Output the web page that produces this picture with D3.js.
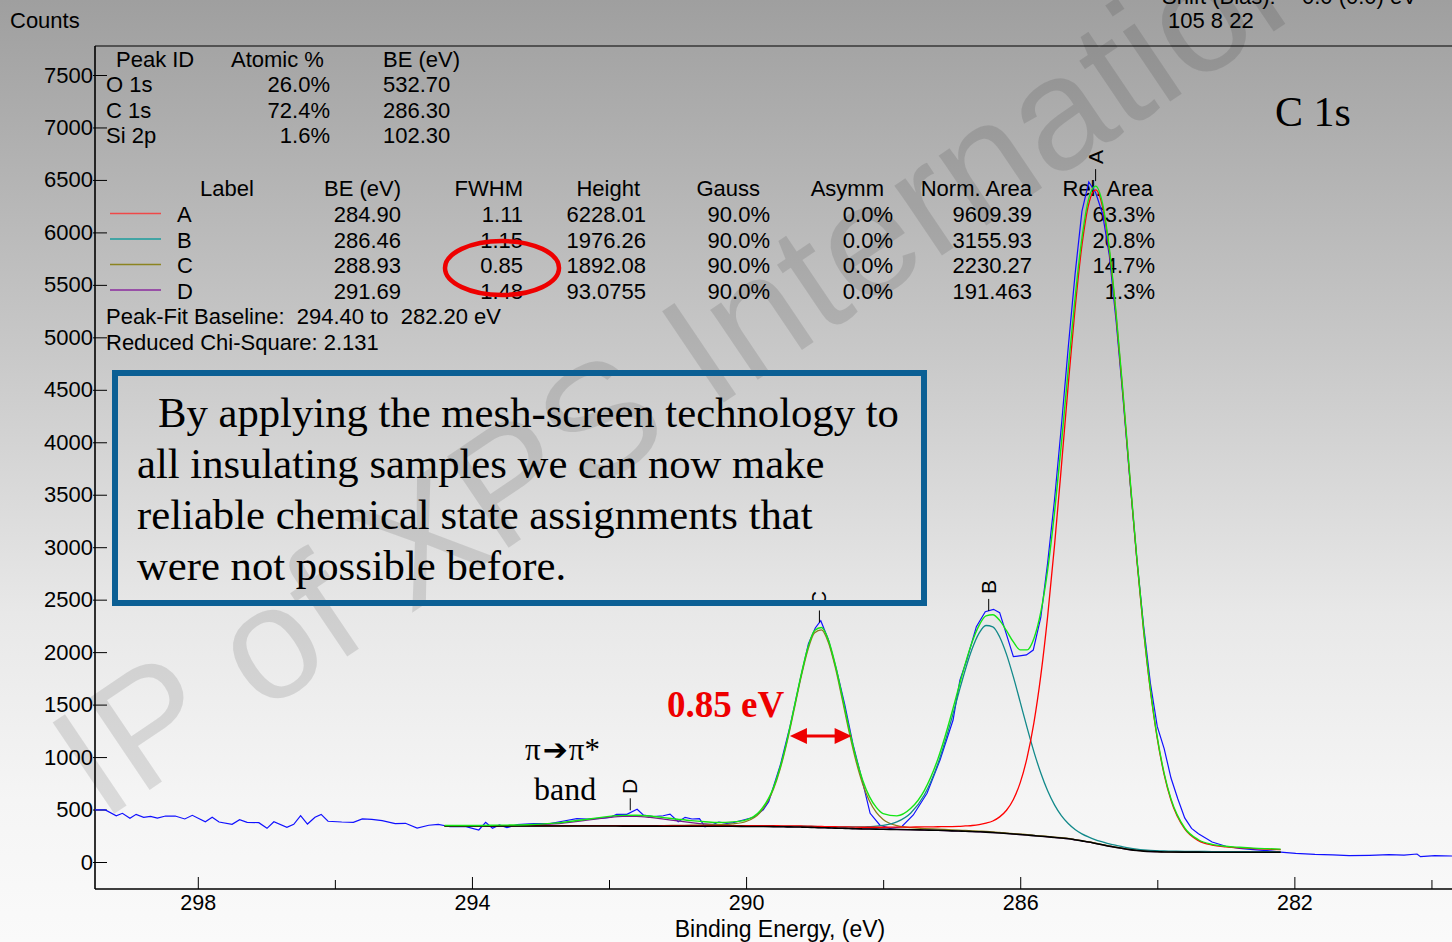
<!DOCTYPE html>
<html><head><meta charset="utf-8">
<script src="https://cdn.jsdelivr.net/npm/d3@7"></script>
<style>html,body{margin:0;padding:0;overflow:hidden;background:#fff}</style>
</head><body><svg id="chart" width="1452" height="942"></svg>
<script>
// ---------- DATA ----------
const yTicks = [0,500,1000,1500,2000,2500,3000,3500,4000,4500,5000,5500,6000,6500,7000,7500];
const xMajorTicks = [298,294,290,286,282];
const xMinorTicks = [296,292,288,284,280];

const peakIds = ["O 1s","C 1s","Si 2p"];
const atomicPct = ["26.0%","72.4%","1.6%"];
const peakBEs = ["532.70","286.30","102.30"];

const compLabels = ["A","B","C","D"];
const compBE = [284.90,286.46,288.93,291.69];
const compBEtxt = ["284.90","286.46","288.93","291.69"];
const compFWHM = ["1.11","1.15","0.85","1.48"];
const compHeight = ["6228.01","1976.26","1892.08","93.0755"];
const compGauss = ["90.0%","90.0%","90.0%","90.0%"];
const compAsymm = ["0.0%","0.0%","0.0%","0.0%"];
const compNormArea = ["9609.39","3155.93","2230.27","191.463"];
const compRelArea = ["63.3%","20.8%","14.7%","1.3%"];
const compColors = ["#ff0000","#12898a","#8a7d1a","#7a1a8a"];
const legendColors = ["#f04848","#1a9c9c","#8c8420","#8a2a9e"];

// raw spectrum (blue)
const rawBE = [299.50,299.35,299.19,299.10,298.99,298.90,298.79,298.69,298.59,298.47,298.33,298.19,298.08,297.89,297.79,297.69,297.50,297.39,297.28,297.11,296.99,296.89,296.70,296.60,296.50,296.40,296.29,296.20,296.10,295.90,295.73,295.60,295.46,295.31,295.12,294.97,294.80,294.63,294.49,294.32,294.10,293.90,293.80,293.70,293.60,293.49,293.34,293.10,292.86,292.66,292.47,292.32,292.13,291.98,291.89,291.74,291.59,291.50,291.35,291.21,291.11,290.99,290.89,290.79,290.68,290.60,290.50,290.40,290.28,290.19,290.04,289.89,289.75,289.67,289.50,289.36,289.21,289.09,288.99,288.91,288.80,288.68,288.56,288.44,288.31,288.19,288.05,287.90,287.73,287.56,287.36,287.17,286.98,286.88,286.78,286.64,286.51,286.39,286.30,286.10,285.91,285.81,285.70,285.60,285.50,285.40,285.30,285.20,285.10,285.00,284.90,284.80,284.70,284.60,284.50,284.40,284.30,284.20,284.10,284.00,283.90,283.80,283.70,283.60,283.50,283.40,283.20,283.00,282.80,282.60,282.40,282.20,281.98,281.70,281.44,281.20,280.90,280.62,280.40,280.21,280.16,279.95,279.70];
const rawCounts = [496,496,441,464,416,454,426,435,419,438,438,410,445,384,426,381,359,403,378,375,321,384,331,359,441,362,426,454,388,381,378,410,407,394,365,369,324,350,359,336,340,305,378,321,353,327,356,365,365,391,413,410,416,426,454,454,502,448,432,441,457,384,426,410,413,336,353,381,369,375,400,426,496,575,924,1290,1740,2080,2230,2300,2120,1830,1500,1120,790,464,353,321,336,448,655,972,1353,1734,1925,2243,2385,2408,2376,1957,1973,2020,2330,2850,3450,4150,4900,5600,6200,6480,6380,6180,5780,5150,4420,3640,2900,2250,1700,1290,1080,800,600,420,320,270,190,150,130,118,108,95,83,72,67,60,64,70,66,76,51,60,57];

// fit grid (binding energy, eV)
const fitBE = [294.4,294.0,293.6,293.2,292.8,292.4,292.2,292.0,291.8,291.6,291.4,291.2,291.0,290.8,290.6,290.4,290.2,290.0,289.8,289.6,289.5,289.4,289.3,289.2,289.1,289.0,288.9,288.8,288.7,288.6,288.5,288.4,288.3,288.2,288.1,288.0,287.8,287.6,287.4,287.2,287.1,287.0,286.9,286.8,286.7,286.6,286.5,286.4,286.3,286.2,286.1,286.0,285.9,285.8,285.7,285.6,285.5,285.4,285.3,285.2,285.1,285.0,284.9,284.8,284.7,284.6,284.5,284.4,284.3,284.2,284.1,284.0,283.9,283.8,283.6,283.4,283.2,283.0,282.8,282.6,282.4,282.2];
// Shirley background (counts)
const baseline = [343,343,343,343,343,343,343,343,342,342,342,341,341,341,340,340,340,339,338,337,336,335,334,333,331,329,327,325,323,321,319,317,315,314,313,312,310,308,305,302,300,297,295,293,290,288,285,281,277,272,267,262,257,251,246,240,234,228,222,212,201,190,177,164,150,139,128,118,110,104,100,98,96,95,94,94,93,93,93,93,93,93];
// component heights above the background (counts)
const peakA = [2,2,3,3,3,3,4,4,4,4,5,5,5,6,6,6,7,7,8,9,9,9,10,10,11,11,12,12,13,14,15,15,16,17,18,19,22,25,29,34,37,41,45,51,58,68,85,110,153,221,329,494,738,1078,1530,2101,2781,3537,4321,5060,5673,6083,6228,6083,5673,5060,4321,3537,2781,2101,1530,1078,738,494,221,110,68,51,41,34,29,25];
const peakB = [1,1,1,1,2,2,2,2,2,2,3,3,3,3,4,4,5,5,6,6,7,7,8,8,9,10,10,11,12,13,15,17,19,23,28,36,72,157,333,638,842,1070,1310,1542,1744,1893,1969,1960,1868,1707,1497,1262,1023,799,602,438,310,214,145,98,67,47,34,27,22,19,16,14,13,12,11,10,9,9,8,7,6,5,5,4,4,4];
const peakC = [1,1,2,2,2,3,3,4,4,5,5,6,8,9,12,15,23,47,130,358,557,815,1115,1422,1687,1855,1885,1769,1536,1239,931,654,431,268,160,94,36,19,14,11,10,9,8,7,7,6,6,5,5,4,4,4,4,3,3,3,3,3,3,2,2,2,2,2,2,2,2,2,2,2,2,2,2,2,1,1,1,1,1,1,1,1];
const peakD = [1,1,2,6,20,49,66,82,92,92,83,68,51,35,22,12,7,4,2,1,1,1,1,1,1,1,1,1,1,1,1,1,1,1,1,0,0,0,0,0,0,0,0,0,0,0,0,0,0,0,0,0,0,0,0,0,0,0,0,0,0,0,0,0,0,0,0,0,0,0,0,0,0,0,0,0,0,0,0,0,0,0];
// envelope (counts)
const envelope = [348,348,351,355,370,400,418,435,444,445,438,423,408,394,384,377,382,402,484,711,910,1167,1468,1774,2039,2206,2235,2118,1885,1588,1281,1004,782,623,520,461,440,509,681,985,1189,1417,1658,1893,2099,2255,2345,2356,2303,2204,2097,2022,2022,2131,2381,2782,3328,3982,4691,5372,5943,6322,6441,6276,5847,5220,4467,3671,2906,2219,1643,1188,845,600,324,212,168,150,140,132,127,123];

// ---------- DRAW ----------
const W = 1452, H = 942;
const svg = d3.select("#chart");
const SANS = "'Liberation Sans', Arial, Helvetica, sans-serif";
const SERIF = "'Liberation Serif', 'Times New Roman', serif";

const defs = svg.append("defs");
const grad = defs.append("linearGradient").attr("id","bg").attr("x1",0).attr("y1",0).attr("x2",0).attr("y2",1);
[[0,"#9f9f9f"],[0.38,"#c9c9c9"],[0.65,"#e8e8e8"],[0.85,"#f5f5f5"],[1,"#fafafa"]].forEach(s=>grad.append("stop").attr("offset",s[0]).attr("stop-color",s[1]));
svg.append("rect").attr("width",W).attr("height",H).attr("fill","url(#bg)");

// watermark
svg.append("text").attr("transform","translate(102,822) rotate(-34)")
  .attr("font-family",SANS).attr("font-size",160).attr("fill","rgba(0,0,0,0.11)")
  .text("IP of XPS International");

const x = d3.scaleLinear().domain([299.5, 279.7]).range([95, 1452]);
const y = d3.scaleLinear().domain([0, 7500]).range([862, 75]);

defs.append("clipPath").attr("id","plotclip").append("rect").attr("x",95).attr("y",46).attr("width",W-95).attr("height",889-46);

// axes
const xAxisMaj = d3.axisBottom(x).tickValues(xMajorTicks).tickSizeInner(-12).tickSizeOuter(0).tickPadding(6).tickFormat(d3.format("d"));
const gx = svg.append("g").attr("transform","translate(0,889)").call(xAxisMaj);
gx.select(".domain").remove();
gx.selectAll("text").attr("font-family",SANS).attr("font-size",21.5).attr("fill","#000");
gx.selectAll("line").attr("stroke","#000").attr("stroke-width",1);
const xAxisMin = d3.axisBottom(x).tickValues(xMinorTicks).tickSizeInner(-9).tickSizeOuter(0).tickFormat("");
const gx2 = svg.append("g").attr("transform","translate(0,889)").call(xAxisMin);
gx2.select(".domain").remove();
gx2.selectAll("line").attr("stroke","#000").attr("stroke-width",1);

const yAxis = d3.axisLeft(y).tickValues(yTicks).tickSizeInner(-12).tickSizeOuter(0).tickPadding(2).tickFormat(d3.format("d"));
const gy = svg.append("g").attr("transform","translate(95,0)").call(yAxis);
gy.select(".domain").remove();
gy.selectAll("text").attr("font-family",SANS).attr("font-size",22).attr("fill","#000");
gy.selectAll("line").attr("stroke","#000").attr("stroke-width",1).attr("x1",-2);

// frame
svg.append("line").attr("x1",95).attr("x2",W).attr("y1",46).attr("y2",46).attr("stroke","#000").attr("stroke-width",1.2);
svg.append("line").attr("x1",95).attr("x2",W).attr("y1",889).attr("y2",889).attr("stroke","#000").attr("stroke-width",1.6);
svg.append("line").attr("x1",95).attr("x2",95).attr("y1",46).attr("y2",889).attr("stroke","#000").attr("stroke-width",1.6);

// texts outside
function txt(g, xx, yy, s, opt={}) {
  return g.append("text").attr("x",xx).attr("y",yy).attr("font-family",opt.family||SANS)
    .attr("font-size",opt.size||21).attr("fill",opt.fill||"#000").attr("text-anchor",opt.anchor||"start")
    .attr("font-weight",opt.weight||"normal").text(s);
}
txt(svg,10,28,"Counts",{size:22});
txt(svg,1162,4,"Shift (Bias):",{size:22});
txt(svg,1302,4,"0.0 (0.0) eV",{size:22});
txt(svg,1168,28,"105 8 22",{size:22});
txt(svg,780,937,"Binding Energy, (eV)",{size:23,anchor:"middle"});

// tables
const tb = svg.append("g");
txt(tb,116,67,"Peak ID",{size:22});
txt(tb,231,67,"Atomic %",{size:22});
txt(tb,383,67,"BE (eV)",{size:22});
peakIds.forEach((p,i)=>{
  const yy = 92 + i*25.7;
  txt(tb,106,yy,p,{size:22});
  txt(tb,330,yy,atomicPct[i],{size:22,anchor:"end"});
  txt(tb,383,yy,peakBEs[i],{size:22});
});
const hdrY = 196;
txt(tb,200,hdrY,"Label",{size:22});
const cols = [
  {end:401, head:"BE (eV)", vals:compBEtxt},
  {end:523, head:"FWHM", vals:compFWHM},
  {end:646, head:"Height", vals:compHeight, hEnd:640},
  {end:770, head:"Gauss", vals:compGauss, hEnd:760},
  {end:893, head:"Asymm", vals:compAsymm, hEnd:884},
  {end:1032, head:"Norm. Area", vals:compNormArea},
  {end:1155, head:"Rel. Area", vals:compRelArea, hEnd:1153}
];
cols.forEach(c=>{
  txt(tb,c.hEnd||c.end,hdrY,c.head,{size:22,anchor:"end"});
});
compLabels.forEach((l,i)=>{
  const yy = 222 + i*25.5;
  tb.append("line").attr("x1",110).attr("x2",161).attr("y1",yy-8.5).attr("y2",yy-8.5)
    .attr("stroke",legendColors[i]).attr("stroke-width",1.6);
  txt(tb,177,yy,l,{size:22});
  cols.forEach(c=>txt(tb,c.end,yy,c.vals[i],{size:22,anchor:"end"}));
});
txt(tb,106,324,"Peak-Fit Baseline:  294.40 to  282.20 eV",{size:22}).style("white-space","pre");
txt(tb,106,350,"Reduced Chi-Square: 2.131",{size:22});

// curves
const plot = svg.append("g").attr("clip-path","url(#plotclip)");
const rawPts = rawBE.map((b,i)=>[b, rawCounts[i]]);
const lineLin = d3.line().x(d=>x(d[0])).y(d=>y(d[1]));
const lineSm = d3.line().x(d=>x(d[0])).y(d=>y(d[1])).curve(d3.curveMonotoneX);
plot.append("path").attr("d",lineLin(rawPts)).attr("fill","none").attr("stroke","#1010ff").attr("stroke-width",1.2);

[peakD,peakC,peakB,peakA].forEach((arr,k)=>{
  const idx = 3-k;
  const pts = fitBE.map((b,i)=>[b, baseline[i]+arr[i]]);
  plot.append("path").attr("d",lineSm(pts)).attr("fill","none").attr("stroke",compColors[idx]).attr("stroke-width",1.3);
});
plot.append("path").attr("d",lineSm(fitBE.map((b,i)=>[b,baseline[i]]))).attr("fill","none").attr("stroke","#000").attr("stroke-width",1.6);
plot.append("path").attr("d",lineSm(fitBE.map((b,i)=>[b,envelope[i]]))).attr("fill","none").attr("stroke","#14e614").attr("stroke-width",1.4);

// peak labels
compBE.forEach((b,i)=>{
  let best = 0;
  fitBE.forEach((f,j)=>{ if (Math.abs(f-b) < Math.abs(fitBE[best]-b)) best = j; });
  const yt = y(envelope[best]);
  const xp = x(b);
  svg.append("line").attr("x1",xp).attr("x2",xp).attr("y1",yt-17).attr("y2",yt-5).attr("stroke","#000").attr("stroke-width",1);
  svg.append("text").attr("transform",`translate(${xp+7},${yt-29}) rotate(-90)`)
    .attr("text-anchor","middle").attr("font-family",SANS).attr("font-size",21).text(compLabels[i]);
});

// annotation box
svg.append("rect").attr("x",115).attr("y",373).attr("width",809).attr("height",230)
  .attr("fill","none").attr("stroke","#0b5f94").attr("stroke-width",6);
const boxLines = ["By applying the mesh-screen technology to","all insulating samples we can now make","reliable chemical state assignments that","were not possible before."];
boxLines.forEach((s,i)=>txt(svg, i===0?158:137, 427+i*51, s, {family:SERIF,size:42.7}));

txt(svg,1275,126,"C 1s",{family:SERIF,size:42});

// red ellipse around 0.85
svg.append("ellipse").attr("cx",502).attr("cy",268).attr("rx",57).attr("ry",27)
  .attr("fill","none").attr("stroke","#ee0000").attr("stroke-width",4.5);

// FWHM arrow
const ay = 736, ax1 = x(289.36), ax2 = x(288.46);
svg.append("line").attr("x1",ax1+14).attr("x2",ax2-14).attr("y1",ay).attr("y2",ay).attr("stroke","#ee0000").attr("stroke-width",3);
svg.append("path").attr("d",`M${ax1},${ay} L${ax1+17},${ay-8} L${ax1+17},${ay+8} Z`).attr("fill","#ee0000");
svg.append("path").attr("d",`M${ax2},${ay} L${ax2-17},${ay-8} L${ax2-17},${ay+8} Z`).attr("fill","#ee0000");
txt(svg,667,717,"0.85 eV",{family:SERIF,size:37,weight:"bold",fill:"#ee0000"});

const pt = svg.append("text").attr("x",525).attr("y",760).attr("font-family",SERIF).attr("font-size",31);
pt.append("tspan").text("π");
pt.append("tspan").attr("font-family","'DejaVu Sans', sans-serif").attr("font-size",30).attr("dx",2).text("➔");
pt.append("tspan").attr("dx",1).text("π*");
txt(svg,534,800,"band",{family:SERIF,size:32});
</script></body></html>
